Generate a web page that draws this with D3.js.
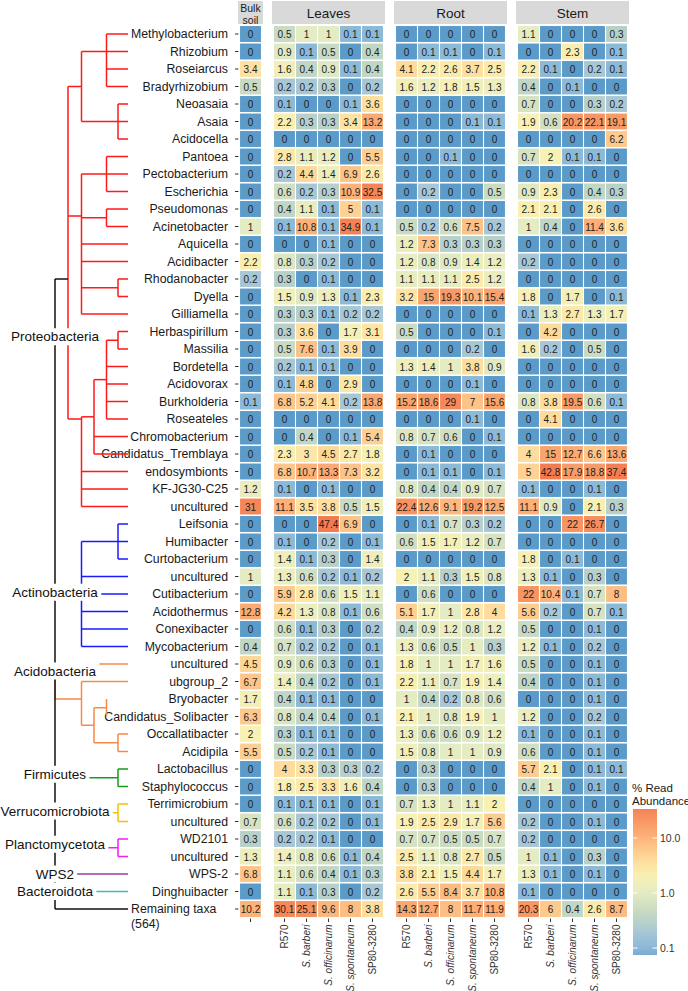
<!DOCTYPE html>
<html><head><meta charset="utf-8">
<script src="https://cdn.jsdelivr.net/npm/d3@7"></script>
<style>body{margin:0;background:#fff}svg{display:block}text{font-family:"Liberation Sans",Arial,Helvetica,sans-serif}</style>
</head><body><svg id="c" width="688" height="991"></svg>
<script>
const taxa = ["Methylobacterium","Rhizobium","Roseiarcus","Bradyrhizobium","Neoasaia","Asaia","Acidocella","Pantoea","Pectobacterium","Escherichia","Pseudomonas","Acinetobacter","Aquicella","Acidibacter","Rhodanobacter","Dyella","Gilliamella","Herbaspirillum","Massilia","Bordetella","Acidovorax","Burkholderia","Roseateles","Chromobacterium","Candidatus_Tremblaya","endosymbionts","KF-JG30-C25","uncultured","Leifsonia","Humibacter","Curtobacterium","uncultured","Cutibacterium","Acidothermus","Conexibacter","Mycobacterium","uncultured","ubgroup_2","Bryobacter","Candidatus_Solibacter","Occallatibacter","Acidipila","Lactobacillus","Staphylococcus","Terrimicrobium","uncultured","WD2101","uncultured","WPS-2","Dinghuibacter","Remaining taxa"];
const remainingNote = "(564)";
const tissues = ["Leaves","Root","Stem"];
const genotypes = ["R570","S. barberi","S. officinarum","S. spontaneum","SP80-3280"];
const bulkLabel = ["Bulk","soil"];
const bulk = [0,0,3.4,0.5,0,0,0,0,0,0,0,1,0,2.2,0.2,0,0,0,0,0,0,0.1,0,0,0,0,1.2,31,0,0,0,1,0,12.8,0,0.4,4.5,6.7,1.7,6.3,2,5.5,0,0,0,0.7,0.3,1.3,6.8,0,10.2];
const leaves = [[0.5,1,1,0.1,0.1],[0.9,0.1,0.5,0,0.4],[1.6,0.4,0.9,0.1,0.4],[0.2,0.2,0.3,0,0.2],[0.1,0,0,0.1,3.6],[2.2,0.3,0.3,3.4,13.2],[0,0,0,0,0],[2.8,1.1,1.2,0,5.5],[0.2,4.4,1.4,6.9,2.6],[0.6,0.2,0.3,10.9,32.5],[0.4,1.1,0.1,5,0.1],[0.1,10.8,0.1,34.9,0.1],[0,0,0.1,0,0],[0.8,0.3,0.2,0,0],[0.3,0,0.1,0,0],[1.5,0.9,1.3,0.1,2.3],[0.3,0.3,0.1,0.2,0.2],[0.3,3.6,0,1.7,3.1],[0.5,7.6,0.1,3.9,0],[0.2,0.1,0.1,0,0],[0.1,4.8,0,2.9,0],[6.8,5.2,4.1,0.2,13.8],[0,0,0,0,0],[0,0.4,0,0.1,5.4],[2.3,3,4.5,2.7,1.8],[6.8,10.7,13.3,7.3,3.2],[0.1,0,0.1,0,0],[11.1,3.5,3.8,0.5,1.5],[0,0,47.4,6.9,0],[0.1,0,0.2,0,0.1],[1.4,0.1,0.3,0,1.4],[1.3,0.6,0.2,0.1,0.2],[5.9,2.8,0.6,1.5,1.1],[4.2,1.3,0.8,0.1,0.6],[0.6,0.1,0.3,0,0.2],[0.7,0.2,0.2,0,0.1],[0.9,0.6,0.3,0,0.1],[1.4,0.4,0.2,0,0.1],[0.4,0.1,0.1,0,0],[0.8,0.4,0.4,0,0.1],[0.3,0.1,0.1,0,0],[0.5,0.2,0.1,0,0],[4,3.3,0.3,0.3,0.2],[1.8,2.5,3.3,1.6,0.4],[0.1,0.1,0.1,0,0.1],[0.6,0.2,0.2,0,0.1],[0.2,0.2,0.1,0,0],[1.4,0.8,0.6,0.1,0.4],[1.1,0.6,0.4,0.1,0.3],[1.1,0.1,0.3,0,0.2],[30.1,25.1,9.6,8,3.8]];
const root = [[0,0,0,0,0],[0,0.1,0.1,0,0.1],[4.1,2.2,2.6,3.7,2.5],[1.6,1.2,1.8,1.5,1.3],[0,0,0,0,0],[0,0,0,0.1,0.1],[0,0,0,0,0],[0,0,0.1,0,0],[0,0,0,0,0],[0,0.2,0,0,0.5],[0,0,0,0,0],[0.5,0.2,0.6,7.5,0.2],[1.2,7.3,0.3,0.3,0.3],[1.2,0.8,0.9,1.4,1.2],[1.1,1.1,1.1,2.5,1.2],[3.2,15,19.3,10.1,15.4],[0,0,0,0,0],[0.5,0,0,0,0.1],[0,0,0,0.2,0],[1.3,1.4,1,3.8,0.9],[0,0,0,0.1,0],[15.2,18.6,29,7,15.6],[0,0,0,0.1,0],[0.8,0.7,0.6,0,0.1],[0,0.1,0,0,0],[0,0.1,0.1,0,0.1],[0.8,0.4,0.4,0.9,0.7],[22.4,12.6,9.1,19.2,12.5],[0,0.1,0.7,0.3,0.2],[0.6,1.5,1.7,1.2,0.7],[0,0,0,0,0],[2,1.1,0.3,1.5,0.8],[0,0.6,0,0,0],[5.1,1.7,1,2.8,4],[0.4,0.9,1.2,0.8,1.2],[1.3,0.6,0.5,1,0.3],[1.8,1,1,1.7,1.6],[2.2,1.1,0.7,1.9,1.4],[1,0.4,0.2,0.8,0.6],[2.1,1,0.8,1.9,1],[1.3,0.6,0.6,0.9,1.2],[1.5,0.8,1,1,0.9],[0,0.3,0,0,0],[0,0.3,0,0,0],[0.7,1.3,1,1.1,2],[1.9,2.5,2.9,1.7,5.6],[0.7,0.7,0.5,0.5,0.7],[2.5,1.1,0.8,2.7,0.5],[3.8,2.1,1.5,4.4,1.7],[2.6,5.5,8.4,3.7,10.8],[14.3,12.7,8,11.7,11.9]];
const stem = [[1.1,0,0,0,0.3],[0,0,2.3,0,0.1],[2.2,0.1,0,0.2,0.1],[0.4,0,0.1,0,0],[0.7,0,0,0.3,0.2],[1.9,0.6,20.2,22.1,19.1],[0,0,0,0,6.2],[0.7,2,0.1,0.1,0],[0,0,0,0,0],[0.9,2.3,0,0.4,0.3],[2.1,2.1,0,2.6,0],[1,0.4,0,11.4,3.6],[0,0,0,0,0],[0.2,0,0,0,0],[0,0,0,0,0],[1.8,0,1.7,0,0.1],[0.1,1.3,2.7,1.3,1.7],[0,4.2,0,0,0],[1.6,0.2,0,0.5,0],[0,0,0,0,0],[0,0,0,0,0],[0.8,3.8,19.5,0.6,0.1],[0,4.1,0,0,0],[0,0,0,0,0],[4,15,12.7,6.6,13.6],[5,42.8,17.9,18.8,37.4],[0.1,0,0,0.1,0],[11.1,0.9,0,2.1,0.3],[0,0,22,26.7,0],[0,0,0,0,0],[1.8,0,0.1,0,0],[1.3,0.1,0,0.3,0],[22,10.4,0.1,0.7,8],[5.6,0.2,0,0.7,0.1],[0.5,0,0,0.1,0],[1.2,0.1,0,0.2,0],[0.5,0,0,0.1,0],[0.4,0,0,0.1,0],[0,0,0,0.1,0],[1.2,0,0,0.2,0],[0.1,0,0,0.1,0],[0.6,0,0,0.1,0],[5.7,2.1,0,0.1,0.1],[0.4,1,0,0.1,0],[0,0,0,0,0],[0.2,0,0,0.1,0],[0.2,0,0,0,0],[1,0.1,0,0.3,0],[1.3,0.1,0,0.1,0],[0.1,0,0,0,0],[20.3,6,0.4,2.6,8.7]];
const legendTitle = ["% Read","Abundance"];
const legendTicks = [10, 1, 0.1];
// phyla: name, row where label sits (0-based, fractional)
const phyla = [
  {name:"Proteobacteria", row:17.3},
  {name:"Actinobacteria", row:31.9},
  {name:"Acidobacteria", row:36.4},
  {name:"Firmicutes", row:42.3},
  {name:"Verrucomicrobiota", row:44.4},
  {name:"Planctomycetota", row:46.3},
  {name:"WPS2", row:48},
  {name:"Bacteroidota", row:49}
];
// dendrogram: internal node {lv: level, at: attach row (optional), kids}, leaves = row index
const tree = {lv:0, kids:[
  {phylum:0, lv:1, at:14, kids:[
    {lv:2, kids:[{lv:4, at:1, kids:[0,1,2,3]}, {lv:5, kids:[4,5,6]}]},
    {lv:2, at:10.4, kids:[{lv:4, kids:[7,8,9]}, {lv:4, kids:[10,11]}, 12, 13, {lv:5, kids:[14,15]}, 16]},
    {lv:2, at:22, kids:[{lv:3, kids:[{lv:4, kids:[{lv:5, kids:[17,18]}, 19, 20, 21, 22]}, 23, 24]}, 25, 26, 27]}
  ]},
  {phylum:1, lv:2, kids:[{lv:5, kids:[28,29,30]}, 31, 32, 33, 34, 35]},
  {phylum:2, lv:0, kids:[36, {lv:2, at:38, kids:[37, {lv:3, kids:[{lv:4, bare:true, kids:[38,39]}, {lv:5, kids:[40,41]}]}]}]},
  {phylum:3, lv:5, kids:[42,43]},
  {phylum:4, lv:5, kids:[44,45]},
  {phylum:5, lv:5, kids:[46,47]},
  {phylum:6, lv:0, kids:[48]},
  {phylum:7, lv:0, kids:[49]},
  50
]};

// ---- styles ----
const phylumColor = ["#ff1a1a","#1a1aff","#f7894a","#1a9a1a","#f2c200","#f01ef0","#9a3fa0","#3dbfa8"];
const rootColor = "#111";
const svg = d3.select("#c");

const y = d3.scaleBand().domain(d3.range(taxa.length)).range([25.25, 917.75]).paddingInner(0.09).paddingOuter(0.045);
const rowC = d3.scaleLinear().domain([0, taxa.length-1]).range([y(0)+y.bandwidth()/2, y(taxa.length-1)+y.bandwidth()/2]);

const logv = v => Math.log10(Math.max(v, 0.05));
const colStops = [[-1.3,"#5a9bca"],[-1,"#8bb9d8"],[-0.7,"#a8c7d5"],[-0.5,"#b9d2c9"],[-0.3,"#c9dbc2"],[0,"#e3ecc3"],[0.3,"#f8f1b4"],[0.55,"#fde1a1"],[0.8,"#fdc88c"],[1.0,"#fcb47b"],[1.3,"#f99864"],[1.6,"#f47b50"]];
const color = d3.scaleLinear().domain(colStops.map(d=>d[0])).range(colStops.map(d=>d[1])).interpolate(d3.interpolateRgb).clamp(true);

// ---- panels ----
const panels = [{name:"Bulk soil", cols:[""], values:bulk.map(v=>[v])}]
  .concat(tissues.map((t,i)=>({name:t, cols:genotypes, values:[leaves,root,stem][i]})));
let cursor = 239.5;
panels.forEach(p=>{
  p.x0 = cursor; p.x1 = cursor + 22*p.cols.length;
  p.x = d3.scaleBand().domain(d3.range(p.cols.length)).range([p.x0, p.x1]).paddingInner(0.05).paddingOuter(0.025);
  cursor = p.x1 + 12;
});

const gH = svg.append("g");
panels.forEach((p,pi)=>{
  gH.append("rect").attr("x",p.x0-1.5).attr("y",1).attr("width",p.x1-p.x0+3).attr("height",23).attr("fill","#d9d9d9");
  if(pi===0){
    bulkLabel.forEach((l,k)=>gH.append("text").attr("x",(p.x0+p.x1)/2).attr("y",8+k*11.5).attr("text-anchor","middle").attr("dominant-baseline","central").attr("font-size",10.5).attr("fill","#1a1a1a").text(l));
  } else {
    gH.append("text").attr("x",(p.x0+p.x1)/2).attr("y",13).attr("text-anchor","middle").attr("dominant-baseline","central").attr("font-size",13.5).attr("fill","#1a1a1a").text(p.name);
  }
  const g = svg.append("g");
  p.values.forEach((row,i)=>{
    row.forEach((v,j)=>{
      g.append("rect").attr("x",p.x(j)).attr("y",y(i)).attr("width",p.x.bandwidth()).attr("height",y.bandwidth()).attr("fill",color(logv(v)));
      g.append("text").attr("x",p.x(j)+p.x.bandwidth()/2).attr("y",y(i)+y.bandwidth()/2+0.5).attr("text-anchor","middle").attr("dominant-baseline","central").attr("font-size",10).attr("fill","#222").text(String(v));
    });
  });
  // x ticks & labels
  p.cols.forEach((c,j)=>{
    const cx = p.x(j)+p.x.bandwidth()/2;
    g.append("line").attr("x1",cx).attr("x2",cx).attr("y1",918.5).attr("y2",922).attr("stroke","#333").attr("stroke-width",1);
    if(c){
      g.append("text").attr("transform",`translate(${cx+3.5},${924.5}) rotate(-90)`).attr("text-anchor","end").attr("font-size",10).attr("fill","#333").attr("font-style",/^S\. /.test(c)?"italic":"normal").text(c);
    }
  });
});

// y ticks and labels
const gY = svg.append("g");
taxa.forEach((t,i)=>{
  const cy = rowC(i);
  gY.append("line").attr("x1",235).attr("x2",238.5).attr("y1",cy).attr("y2",cy).attr("stroke","#333").attr("stroke-width",1);
  if(i===taxa.length-1){
    gY.append("text").attr("x",131).attr("y",cy).attr("dominant-baseline","central").attr("font-size",12.3).attr("fill","#1a1a1a").text(t);
    gY.append("text").attr("x",131).attr("y",cy+14.5).attr("dominant-baseline","central").attr("font-size",12.3).attr("fill","#1a1a1a").text(remainingNote);
  } else {
    gY.append("text").attr("x",228).attr("y",cy).attr("text-anchor","end").attr("dominant-baseline","central").attr("font-size",12.3).attr("fill","#1a1a1a").text(t);
  }
});

// ---- dendrogram ----
const lvX = d3.scaleLinear().domain([0,1,2,3,4,5]).range([55,68,81.5,94,106.5,118]);
const tipX = 128;
const gT = svg.append("g").attr("fill","none").attr("stroke-width",1.5);
const gRoot = svg.append("g").attr("fill","none").attr("stroke-width",1.5);
function place(node, col){
  if(typeof node === "number") return {y: rowC(node), x: tipX, col};
  const c = node.phylum!=null ? phylumColor[node.phylum] : col;
  const kids = node.kids.map(k=>place(k, c));
  const x = lvX(node.lv);
  const ys = kids.map(k=>k.y);
  const y0 = d3.min(ys), y1 = d3.max(ys);
  const target = node===tree ? gRoot : gT;
  if(y1>y0) target.append("line").attr("x1",x).attr("x2",x).attr("y1",y0).attr("y2",y1).attr("stroke",c);
  kids.forEach((k,ki)=>{
    if(node.bare) return;
    let lc = k.col;
    if(node===tree && node.kids[ki].phylum===0) lc = rootColor;
    if(k.x>x) target.append("line").attr("x1",x).attr("x2",k.x).attr("y1",k.y).attr("y2",k.y).attr("stroke",lc);
  });
  const ay = node.at!=null ? rowC(node.at) : (y0+y1)/2;
  return {y: ay, x, col:c};
}
place(tree, rootColor);
gRoot.raise();

// phylum labels
const gP = svg.append("g");
phyla.forEach(p=>{
  const cy = rowC(p.row);
  const t = gP.append("text").attr("x",55).attr("y",cy).attr("text-anchor","middle").attr("dominant-baseline","central").attr("font-size",13.5).attr("fill","#111").text(p.name);
  const bb = t.node().getBBox();
  gP.insert("rect","text").attr("x",bb.x-3).attr("y",cy-8.5).attr("width",bb.width+6).attr("height",17).attr("fill","#fff");
});
gP.raise();

// ---- legend ----
const gL = svg.append("g");
const lx = 633, lw = 24;
const ly = d3.scaleLinear().domain([-1,1]).range([948,838]);
const lTop = 809, lBot = 955;
const grad = svg.append("defs").append("linearGradient").attr("id","lg").attr("x1",0).attr("x2",0).attr("y1",0).attr("y2",1);
d3.range(0,1.0001,0.05).forEach(t=>{
  const v = ly.invert(lTop + t*(lBot-lTop));
  grad.append("stop").attr("offset",t).attr("stop-color",color(v));
});
gL.append("rect").attr("x",lx).attr("y",lTop).attr("width",lw).attr("height",lBot-lTop).attr("fill","url(#lg)");
legendTicks.forEach(v=>{
  const yy = ly(Math.log10(v));
  gL.append("line").attr("x1",lx).attr("x2",lx+4.5).attr("y1",yy).attr("y2",yy).attr("stroke","#fff");
  gL.append("line").attr("x1",lx+lw-4.5).attr("x2",lx+lw).attr("y1",yy).attr("y2",yy).attr("stroke","#fff");
  gL.append("text").attr("x",lx+lw+3).attr("y",yy).attr("dominant-baseline","central").attr("font-size",10.5).attr("fill","#333").text(d3.format(".1f")(v));
});
legendTitle.forEach((l,k)=>gL.append("text").attr("x",632).attr("y",788+k*12.5).attr("dominant-baseline","central").attr("font-size",11.5).attr("fill","#1a1a1a").text(l));
</script></body></html>
